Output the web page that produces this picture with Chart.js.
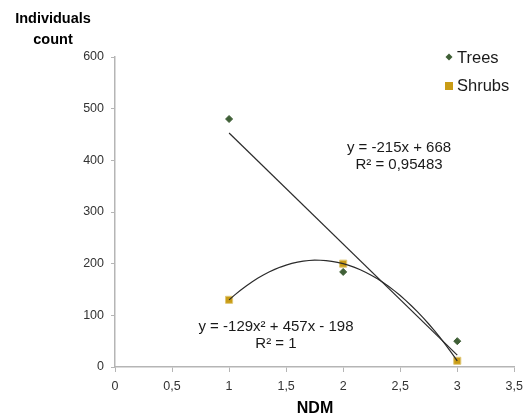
<!DOCTYPE html>
<html>
<head>
<meta charset="utf-8">
<script src="https://cdn.jsdelivr.net/npm/chart.js@4/dist/chart.umd.min.js"></script>
<style>
  html, body { margin: 0; padding: 0; background: #fff; }
  #wrap { width: 530px; height: 420px; }
</style>
</head>
<body>
<div id="wrap"><canvas id="chart-canvas" width="530" height="420"></canvas></div>
<script>
// data
let ndm = [1, 2, 3];
let trees = [480, 184, 50];
let shrubs = [130, 200, 12];
let xTicks = [0, 0.5, 1, 1.5, 2, 2.5, 3, 3.5];
let yTicks = [0, 100, 200, 300, 400, 500, 600];

// trendline equations printed on the chart
let treesFit = [-215, 668];          // a*x + b
let shrubsFit = [-129, 457, -198];   // a*x^2 + b*x + c
let treesLabel = ["y = -215x + 668", "R² = 0,95483"];
let shrubsLabel = ["y = -129x² + 457x - 198", "R² = 1"];

function pairs(xs, ys) {
  return xs.map(function (x, i) { return { x: x, y: ys[i] }; });
}

let treesLine = [ndm[0], ndm[ndm.length - 1]].map(function (x) {
  return { x: x, y: treesFit[0] * x + treesFit[1] };
});

let shrubsCurve = [];
for (let x = ndm[0]; x <= ndm[ndm.length - 1] + 1e-9; x += 0.05) {
  shrubsCurve.push({ x: x, y: shrubsFit[0] * x * x + shrubsFit[1] * x + shrubsFit[2] });
}

let font = "'Liberation Sans', Arial, sans-serif";

let textPlugin = {
  id: "texts",
  afterDraw: function (c) {
    let ctx = c.ctx;
    ctx.save();
    ctx.textAlign = "center";
    ctx.textBaseline = "middle";

    ctx.fillStyle = "#000";
    ctx.font = "bold 14.5px " + font;
    ctx.fillText("Individuals", 53, 19);
    ctx.fillText("count", 53, 40);
    ctx.font = "bold 16px " + font;
    ctx.fillText("NDM", 315, 409);

    ctx.fillStyle = "#1a1a1a";
    ctx.font = "15px " + font;
    ctx.fillText(treesLabel[0], 399, 148);
    ctx.fillText(treesLabel[1], 399, 165);
    ctx.fillText(shrubsLabel[0], 276, 327);
    ctx.fillText(shrubsLabel[1], 276, 344);

    // legend
    ctx.textAlign = "left";
    ctx.font = "16.5px " + font;
    ctx.fillStyle = "#1a1a1a";
    ctx.fillText("Trees", 457, 58);
    ctx.fillText("Shrubs", 457, 86);
    ctx.fillStyle = "#3f5f36";
    ctx.beginPath();
    ctx.moveTo(449, 53.5);
    ctx.lineTo(452.5, 57);
    ctx.lineTo(449, 60.5);
    ctx.lineTo(445.5, 57);
    ctx.closePath();
    ctx.fill();
    ctx.fillStyle = "#c99c16";
    ctx.fillRect(445, 82, 8, 8);
    ctx.restore();
  },
};

let chart = new Chart(document.getElementById("chart-canvas").getContext("2d"), {
  type: "scatter",
  data: {
    datasets: [
      {
        label: "Trees trend",
        type: "line",
        data: treesLine,
        borderColor: "#2b2b2b",
        borderWidth: 1.2,
        pointRadius: 0,
        fill: false,
      },
      {
        label: "Shrubs trend",
        type: "line",
        data: shrubsCurve,
        borderColor: "#2b2b2b",
        borderWidth: 1.2,
        pointRadius: 0,
        fill: false,
      },
      {
        label: "Trees",
        data: pairs(ndm, trees),
        pointStyle: "rectRot",
        pointRadius: 3.5,
        backgroundColor: "#3f5f36",
        borderColor: "#3f5f36",
        borderWidth: 1,
      },
      {
        label: "Shrubs",
        data: pairs(ndm, shrubs),
        pointStyle: "rect",
        pointRadius: 5,
        backgroundColor: "#c99c16",
        borderColor: "#e0c878",
        borderWidth: 1,
      },
    ],
  },
  options: {
    responsive: false,
    animation: false,
    layout: { padding: { top: 57, right: 14, left: 0, bottom: 0 } },
    plugins: { legend: { display: false }, tooltip: { enabled: false } },
    scales: {
      x: {
        type: "linear",
        min: 0,
        max: 3.5,
        afterBuildTicks: function (s) { s.ticks = xTicks.map(function (v) { return { value: v }; }); },
        afterFit: function (s) { s.height = 53; },
        grid: { drawOnChartArea: false, tickLength: 5, color: "#b5b5b5" },
        border: { color: "#b5b5b5", width: 1.5 },
        ticks: {
          color: "#333",
          font: { family: font, size: 12.5 },
          padding: 7,
          maxRotation: 0,
          callback: function (v) { return String(v).replace(".", ","); },
        },
      },
      y: {
        min: 0,
        max: 600,
        afterBuildTicks: function (s) { s.ticks = yTicks.map(function (v) { return { value: v }; }); },
        afterFit: function (s) { s.width = 115; },
        grid: { drawOnChartArea: false, tickLength: 4, color: "#b5b5b5" },
        border: { color: "#b5b5b5", width: 1.5 },
        ticks: { color: "#333", font: { family: font, size: 12.5 }, padding: 7 },
      },
    },
  },
  plugins: [textPlugin],
});
</script>
</body>
</html>
